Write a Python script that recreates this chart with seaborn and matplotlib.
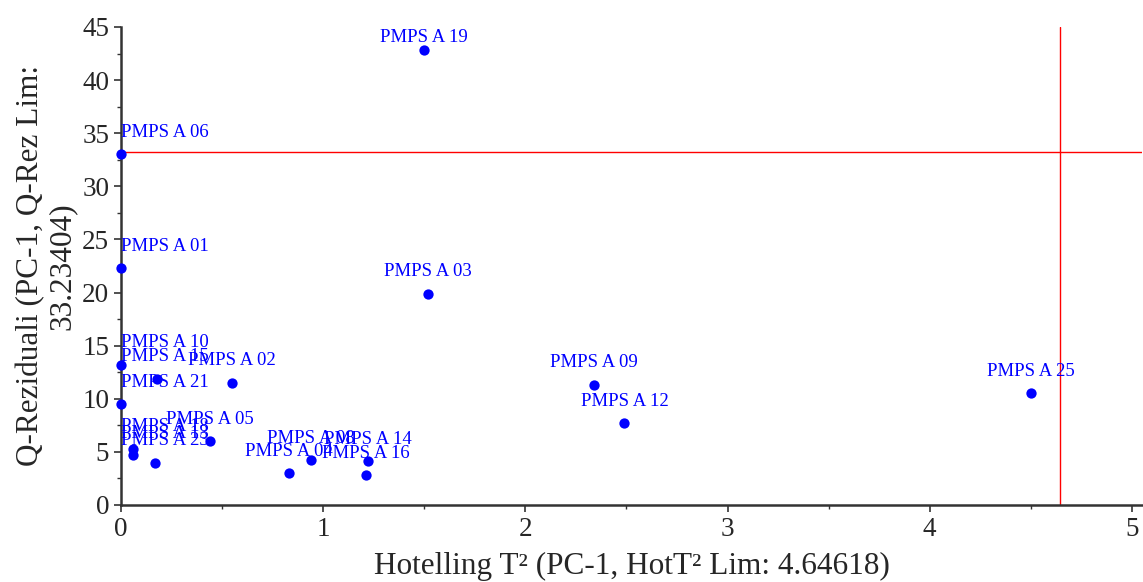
import numpy as np
import pandas as pd
import matplotlib
matplotlib.use('Agg')
import matplotlib.pyplot as plt
import seaborn as sns
from matplotlib.ticker import MultipleLocator

labels = ['PMPS A 19', 'PMPS A 06', 'PMPS A 01', 'PMPS A 03', 'PMPS A 10',
          'PMPS A 15', 'PMPS A 02', 'PMPS A 21', 'PMPS A 05', 'PMPS A 18',
          'PMPS A 13', 'PMPS A 23', 'PMPS A 04', 'PMPS A 08', 'PMPS A 14',
          'PMPS A 16', 'PMPS A 09', 'PMPS A 12', 'PMPS A 25']
hot_t2 = [1.50, 0.0, 0.0, 1.52, 0.0,
          0.18, 0.55, 0.0, 0.44, 0.06,
          0.06, 0.17, 0.83, 0.94, 1.22,
          1.21, 2.34, 2.49, 4.50]
q_res = [42.8, 33.0, 22.3, 19.9, 13.2,
         11.9, 11.5, 9.5, 6.0, 5.3,
         4.7, 4.0, 3.0, 4.2, 4.1,
         2.8, 11.3, 7.7, 10.5]
hot_lim = 4.64618
q_lim = 33.23404

data = pd.DataFrame({'label': labels, 'T2': hot_t2, 'Q': q_res})

sns.set_style('ticks')
plt.rcParams['font.family'] = ['Liberation Serif', 'DejaVu Serif']

fig = plt.figure(figsize=(11.43, 5.82), dpi=100)
ax = fig.add_axes([121/1143, 77/582, 1021/1143, 478/582])

ax.axhline(q_lim, color='red', lw=1, zorder=1)
ax.axvline(hot_lim, color='red', lw=1, zorder=1)

sns.scatterplot(data=data, x='T2', y='Q', color='blue', s=55, edgecolor='blue',
                linewidth=0, ax=ax, clip_on=False, zorder=3)

# labels sit above each point, kept inside the plotting area
for _, r in data.iterrows():
    ax.text(max(r['T2'], 0.218), min(r['Q'] + 2.07, 44.0), r['label'],
            ha='center', va='center', color='blue', fontsize=13.5)

ax.set_xlim(0, 5.05)
ax.set_ylim(0, 45)
ax.xaxis.set_major_locator(MultipleLocator(1))
ax.xaxis.set_minor_locator(MultipleLocator(0.5))
ax.yaxis.set_major_locator(MultipleLocator(5))
ax.yaxis.set_minor_locator(MultipleLocator(2.5))
ax.tick_params(which='major', labelsize=19.5, direction='out', length=5, width=1.2, color='#333333')
ax.tick_params(which='minor', direction='out', length=3, width=1.0, color='#333333')

for s in ['top', 'right']:
    ax.spines[s].set_visible(False)
for s in ['left', 'bottom']:
    ax.spines[s].set_linewidth(1.8)
    ax.spines[s].set_color('#333333')

ax.set_xlabel('Hotelling T² (PC-1, HotT² Lim: 4.64618)', fontsize=22.5, labelpad=7)
ax.set_ylabel('Q-Reziduali (PC-1, Q-Rez Lim:\n33.23404)', fontsize=22.5, labelpad=4,
              linespacing=1.1)

fig.savefig('out.png', dpi=100)
